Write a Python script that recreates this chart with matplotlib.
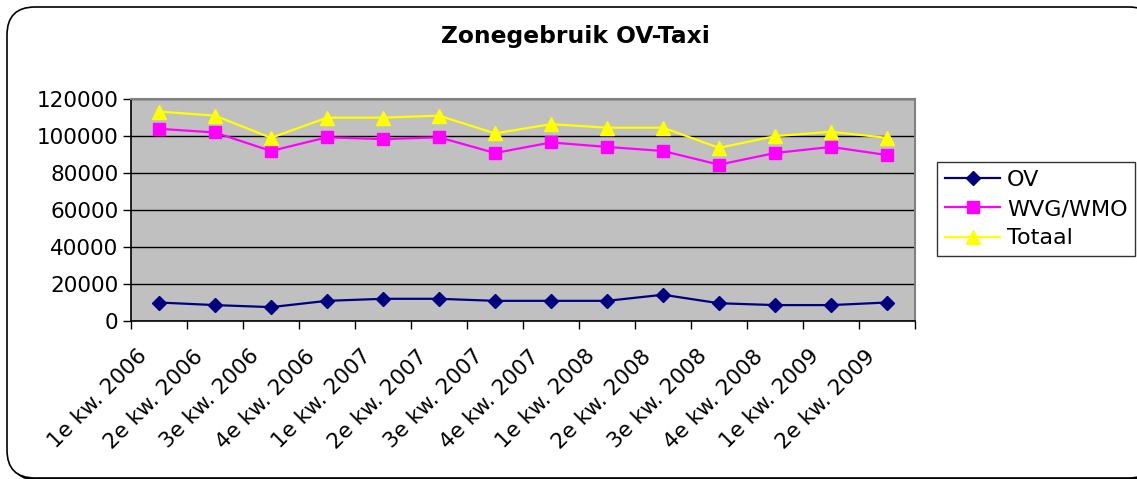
import numpy as np
import matplotlib
matplotlib.use("Agg")
import matplotlib.pyplot as plt
from matplotlib.patches import FancyBboxPatch
from matplotlib.transforms import IdentityTransform, ScaledTranslation

# ---- data ----
QUARTERS = ["1e kw. 2006", "2e kw. 2006", "3e kw. 2006", "4e kw. 2006",
            "1e kw. 2007", "2e kw. 2007", "3e kw. 2007", "4e kw. 2007",
            "1e kw. 2008", "2e kw. 2008", "3e kw. 2008", "4e kw. 2008",
            "1e kw. 2009", "2e kw. 2009"]
OV = [10000, 8600, 7500, 10900, 12000, 12000, 10900, 10900,
      10900, 14200, 9600, 8600, 8600, 10000]
WVG = [103900, 101900, 91900, 99300, 98300, 99300, 90800, 96500,
       94100, 91900, 84500, 90800, 94100, 89700]
TOTAAL = [113200, 111000, 99000, 109900, 109900, 111000, 101400, 106400,
          104500, 104500, 93600, 99900, 102300, 99000]
Y_TICKS = [0, 20000, 40000, 60000, 80000, 100000, 120000]

W, H = 1137, 479
fig = plt.figure(figsize=(W / 100, H / 100), dpi=100)
fig.patch.set_facecolor("white")

# rounded chart frame with a small drop shadow (Excel style)
shadow = FancyBboxPatch((10, -2), 1150, 471, boxstyle="round,pad=0,rounding_size=28",
                        transform=IdentityTransform(), fc="black", ec="none", zorder=0)
frame = FancyBboxPatch((7, 1), 1150, 471, boxstyle="round,pad=0,rounding_size=28",
                       transform=IdentityTransform(), fc="white", ec="black", lw=1.2, zorder=0)
fig.add_artist(shadow)
fig.add_artist(frame)

ax = fig.add_axes([131 / W, 1 - 321 / H, (915 - 131) / W, (321 - 99) / H])
ax.set_facecolor("#c0c0c0")
x = np.arange(len(QUARTERS))

ax.plot(x, OV, color="#000080", lw=1.6, marker="D", ms=7.5, label="OV", zorder=3)
ax.plot(x, WVG, color="#ff00ff", lw=1.6, marker="s", ms=8, label="WVG/WMO", zorder=3)
ax.plot(x, TOTAAL, color="#ffff00", lw=1.6, marker="^", ms=9.5, label="Totaal", zorder=3)

ax.set_xlim(-0.5, len(QUARTERS) - 0.5)
ax.set_ylim(0, 120000)
ax.set_yticks(Y_TICKS)
ax.set_yticklabels([str(v) for v in Y_TICKS], fontsize=15.5)
ax.yaxis.grid(True, color="black", lw=1)
ax.set_axisbelow(True)

# category axis: labels at centres, tick marks between categories
ax.set_xticks(x)
ax.set_xticklabels(QUARTERS, rotation=45, ha="right", va="top",
                   rotation_mode="anchor", fontsize=15.5)
ax.set_xticks(np.arange(-0.5, len(QUARTERS)), minor=True)
ax.tick_params(axis="x", which="major", length=0, pad=18)
ax.tick_params(axis="x", which="minor", length=6, direction="out", width=1)
ax.tick_params(axis="y", length=6, direction="out", width=1, pad=3)
# nudge the slanted labels left (after tick_params, which resets transforms)
shift = ScaledTranslation(-22 / 100, 0, fig.dpi_scale_trans)
for lab in ax.get_xticklabels():
    lab.set_transform(lab.get_transform() + shift)

for s in ("top", "right"):
    ax.spines[s].set_color("#808080")
    ax.spines[s].set_linewidth(1.5)
for s in ("left", "bottom"):
    ax.spines[s].set_color("black")
    ax.spines[s].set_linewidth(1.2)

fig.text(575 / W, 1 - 36 / H, "Zonegebruik OV-Taxi", ha="center", va="center",
         fontsize=16.8, fontweight="bold")

leg = ax.legend(loc="center left", bbox_to_anchor=(937 / W, 1 - 209 / H),
                bbox_transform=fig.transFigure, fontsize=16, frameon=True,
                fancybox=False, edgecolor="black", handlelength=2.5,
                borderaxespad=0, labelspacing=0.42, borderpad=0.35,
                handletextpad=0.3)
leg.get_frame().set_linewidth(1.0)

fig.savefig("out.png", dpi=100)
